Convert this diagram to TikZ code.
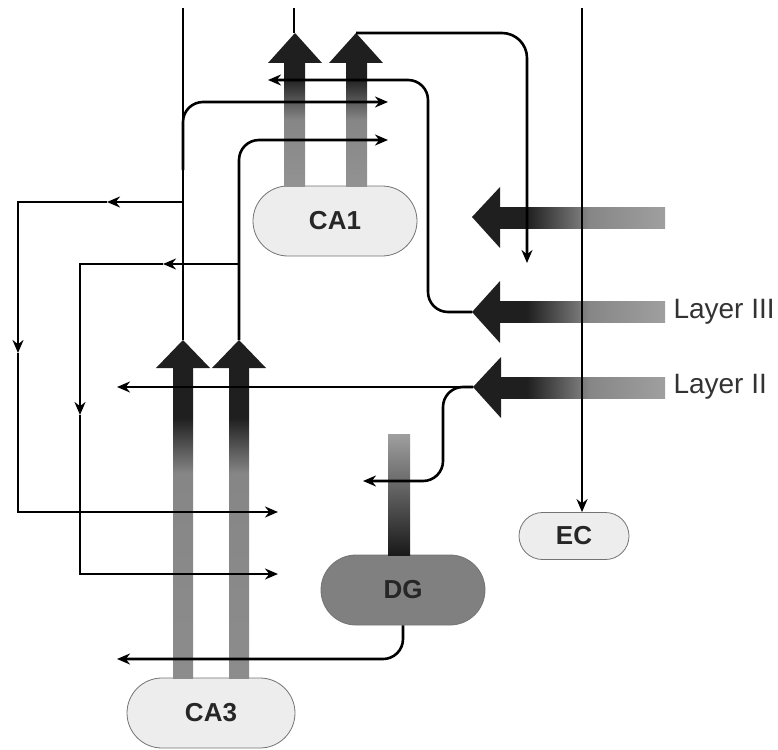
\documentclass[tikz,border=0pt]{standalone}
\usepackage{fontspec}
\setmainfont{Liberation Sans}
\usepackage{tikz}
\usetikzlibrary{arrows.meta, shapes.misc, calc}
\definecolor{PaleGray}{gray}{0.93}
\definecolor{DentateGray}{gray}{0.50}
\definecolor{RimGray}{gray}{0.45}
\definecolor{HeadBlack}{gray}{0.12}
\pgfdeclareverticalshading{shaftlong}{100bp}{color(0bp)=(gray!90); color(25bp)=(gray!90); color(58bp)=(gray!95); color(67bp)=(black!88); color(100bp)=(black!88)}
\pgfdeclareverticalshading{shaftshort}{100bp}{color(0bp)=(gray!85); color(25bp)=(gray!85); color(52bp)=(gray!95); color(69bp)=(black!88); color(100bp)=(black!88)}
\pgfdeclarehorizontalshading{shaftleft}{100bp}{color(0bp)=(black!88); color(33bp)=(black!88); color(52bp)=(gray!95); color(75bp)=(gray!75); color(100bp)=(gray!75)}

\begin{document}
\begin{tikzpicture}[x=1pt, y=-1pt, >={Stealth[length=13pt, width=11pt]},
    region/.style={rounded rectangle, draw=RimGray, line width=0.8pt, fill=PaleGray,
      minimum width=164pt, minimum height=70pt, inner sep=0pt,
      font=\fontsize{26}{28}\selectfont\bfseries, text=black!85},
    wire/.style={line width=2.6pt, black},
    layer/.style={anchor=west, font=\fontsize{28}{30}\selectfont, text=black!80}]
        \useasboundingbox (0,0) rectangle (778,749);
        % Regions
        \node[region] (CA1) at (335,221) {CA1};
        \node[region, minimum width=168pt] (CA3) at (211,713) {CA3};
        \node[region, fill=DentateGray] (DG) at (403,590) {DG};
        \node[region, minimum width=110pt, minimum height=47pt] (EC) at (574,536) {EC};
        % CA3 fat arrows
        \shade[shading=shaftlong] (173,368) rectangle (193,678);
        \shade[shading=shaftlong] (229,368) rectangle (249,678);
        \fill[HeadBlack] (183,340) -- (210,368) -- (156,368) -- cycle;
        \fill[HeadBlack] (239,340) -- (266,368) -- (212,368) -- cycle;
        \coordinate (ca3a) at (183,340);
        \coordinate (ca3b) at (239,340);
        % CA1 fat arrows
        \shade[shading=shaftshort] (284,63) rectangle (305,186);
        \shade[shading=shaftshort] (346,63) rectangle (367,186);
        \fill[HeadBlack] (295,33) -- (322,63) -- (268,63) -- cycle;
        \fill[HeadBlack] (356,33) -- (383,63) -- (329,63) -- cycle;
        \coordinate (ca1a) at (294,33);
        \coordinate (ca1b) at (356,33);
        % DG bar
        \shade[top color=gray!75, bottom color=black!90] (388,434) rectangle (410,555);
        % EC fat arrows, top one and layers III and II
        \shade[shading=shaftleft] (500,207) rectangle (665,228);
        \fill[HeadBlack] (472,217) -- (500,187) -- (500,248) -- cycle;
        \shade[shading=shaftleft] (500,301) rectangle (665,322);
        \fill[HeadBlack] (472,312) -- (500,281) -- (500,343) -- cycle;
        \shade[shading=shaftleft] (500,377) rectangle (665,398);
        \fill[HeadBlack] (473,387) -- (501,357) -- (501,418) -- cycle;
        \coordinate (l3tip) at (472,312);
        \coordinate (l2tip) at (473,387);
        \node[layer] (layer3) at (670,312) {Layer III};
        \node[layer] (layer2) at (670,387) {Layer II};
        % CA3 outputs
        \draw[wire] (ca3a) -- (183,8);
        \draw[wire, ->, rounded corners=20pt] (183,170) -- (183,102) -- (388,102);
        \draw[wire, ->] (183,202) -- (107,202);
        \draw[wire, ->] (107,202) -- (18,202) -- (18,353);
        \draw[wire, ->] (18,353) -- (18,512) -- (278,512);
        \draw[wire, ->, rounded corners=20pt] (ca3b) -- (239,140) -- (388,140);
        \draw[wire, ->] (239,264) -- (163,264);
        \draw[wire, ->] (163,264) -- (80,264) -- (80,415);
        \draw[wire, ->] (80,415) -- (80,574) -- (278,574);
        % CA1 outputs
        \draw[wire] (ca1a) -- (294,8);
        \draw[wire, ->, rounded corners=25pt] (ca1b) -- (527,33) -- (527,263);
        % Layer III and II
        \draw[wire, ->, rounded corners=20pt] (l3tip) -- (428,312) -- (428,80) -- (268,80);
        \draw[wire, ->] (l2tip) -- (117,387);
        \draw[wire, ->, rounded corners=20pt] (l2tip) -- (443,387) -- (443,481) -- (363,481);
        % EC input and DG output
        \draw[wire, ->] (582,8) -- (582,0 |- EC.north);
        \draw[wire, ->, rounded corners=20pt] (DG.south) -- (403,659) -- (117,659);
    \end{tikzpicture}
\end{document}
